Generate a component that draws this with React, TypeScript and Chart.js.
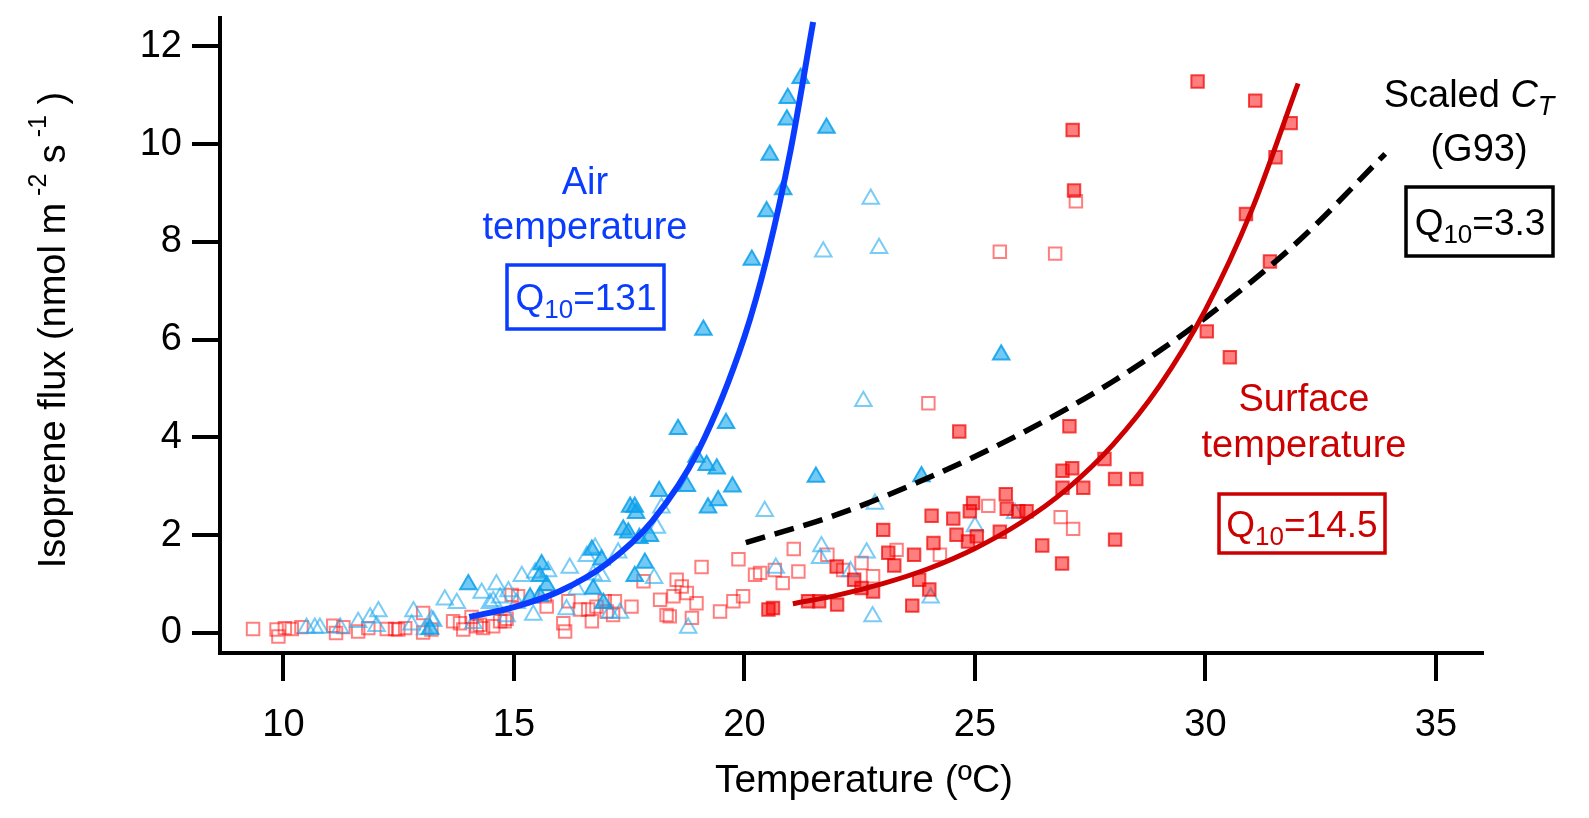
import { useEffect, useRef } from "react";
import { Chart, registerables } from "chart.js";
Chart.register(...registerables);

type Pt = [number, number];

const xTicks = [10, 15, 20, 25, 30, 35];
const yTicks = [0, 2, 4, 6, 8, 10, 12];

// air temperature, filled triangles
const airFilled: Pt[] = [
  [19.11, 6.2], [20.16, 7.63], [20.48, 8.62], [20.84, 9.07], [20.55, 9.78], [20.92, 10.5],
  [20.94, 10.94], [21.22, 11.35], [21.78, 10.33], [25.57, 5.69],
  [18.56, 4.17], [19.6, 4.29], [18.96, 3.6], [19.18, 3.43], [19.4, 3.36], [18.15, 2.9],
  [18.75, 3.0], [19.74, 2.99], [19.21, 2.56], [19.43, 2.71], [21.55, 3.19], [23.84, 3.2],
  [17.52, 2.58], [17.62, 2.58], [17.65, 2.45], [17.37, 2.11], [17.48, 2.05], [17.72, 1.94],
  [17.95, 1.98], [17.84, 1.43], [17.62, 1.16], [16.69, 1.7], [16.9, 1.5], [16.72, 0.9],
  [16.94, 0.61], [15.6, 1.4], [15.56, 1.16], [15.71, 0.97], [15.35, 0.72], [15.56, 0.75],
  [14.01, 0.99], [13.18, 0.08],
];

// air temperature, open triangles
const airOpen: Pt[] = [
  [22.74, 8.88], [21.71, 7.8], [22.92, 7.87], [22.58, 4.74],
  [20.44, 2.49], [22.83, 2.64], [21.67, 1.77], [21.64, 1.53], [20.68, 1.33], [22.65, 1.64],
  [22.3, 1.26], [25.0, 2.18], [25.87, 2.45], [24.04, 0.72], [22.78, 0.34], [18.78, 0.1],
  [18.04, 1.12], [18.2, 2.56], [18.1, 2.15],
  [16.76, 1.74], [16.58, 1.57], [16.21, 1.33], [15.74, 1.26], [15.17, 1.16], [15.46, 1.23],
  [16.36, 0.89], [16.72, 1.19], [16.9, 1.16], [17.26, 1.64], [15.42, 0.37], [14.84, 0.34],
  [17.3, 0.41], [17.08, 0.41], [16.14, 0.48], [14.12, 0.2], [13.25, 0.24], [13.07, 0.07],
  [15.06, 0.61], [13.5, 0.68], [13.76, 0.61], [14.3, 0.82], [14.62, 0.99], [14.88, 0.85],
  [14.48, 0.61], [14.55, 0.65], [14.7, 0.72], [12.82, 0.44], [12.06, 0.44], [11.88, 0.31],
  [11.62, 0.22], [12.02, 0.14], [12.78, 0.17], [13.21, 0.27], [10.5, 0.1], [10.79, 0.1],
  [11.23, 0.1], [10.68, 0.1],
];

// surface temperature, filled squares
const surfFilled: Pt[] = [
  [29.83, 11.28], [31.08, 10.89], [31.85, 10.43], [31.52, 9.73], [30.88, 8.57], [31.4, 7.6],
  [30.03, 6.17], [30.53, 5.64], [27.12, 10.29], [27.15, 9.05], [27.05, 4.23], [24.66, 4.12],
  [27.81, 3.56], [28.04, 3.15], [28.5, 3.15], [28.04, 1.91], [26.9, 3.32], [27.11, 3.37],
  [27.35, 2.97], [26.9, 2.97], [26.46, 1.79], [26.89, 1.42], [25.67, 2.84], [25.69, 2.54],
  [25.94, 2.49], [26.12, 2.49], [25.54, 2.07], [24.96, 2.66], [24.89, 2.49], [24.85, 1.87],
  [25.04, 1.98], [24.6, 2.01], [24.53, 2.34], [24.06, 2.4], [24.1, 1.84], [23.01, 2.11],
  [23.12, 1.64], [23.25, 1.38], [23.68, 1.6], [23.79, 1.09], [24.01, 0.89], [23.64, 0.56],
  [22.0, 1.36], [22.38, 1.09], [22.54, 0.92], [22.79, 0.85], [22.01, 0.58], [21.62, 0.65],
  [21.38, 0.65], [20.62, 0.51], [20.52, 0.48],
];

// surface temperature, open squares
const surfOpen: Pt[] = [
  [23.99, 4.7], [25.54, 7.8], [26.74, 7.76], [27.19, 8.83],
  [25.29, 2.6], [26.86, 2.37], [27.13, 2.13], [24.24, 1.6], [23.3, 1.7], [22.79, 1.16],
  [22.54, 1.43], [22.14, 1.29], [21.8, 1.6], [21.07, 1.72], [21.17, 1.26], [20.83, 1.02],
  [20.66, 1.29], [20.23, 1.19], [20.34, 1.23], [19.87, 1.51], [19.07, 1.35], [18.53, 1.09],
  [18.64, 0.95], [18.75, 0.82], [18.46, 0.75], [18.17, 0.68], [18.96, 0.61], [18.31, 0.37],
  [18.86, 0.31], [19.47, 0.44], [19.76, 0.65], [19.97, 0.75], [17.81, 1.06], [18.38, 0.34],
  [17.55, 0.54], [17.15, 0.37], [16.69, 0.24], [16.43, 0.48], [16.07, 0.2], [16.11, 0.03],
  [15.71, 0.54], [15.09, 0.75], [14.8, 0.24], [16.97, 0.65], [16.61, 0.48], [16.79, 0.54],
  [17.01, 0.44], [17.19, 0.65], [16.18, 0.65], [15.67, 0.75], [14.84, 0.29], [14.55, 0.14],
  [14.26, 0.17], [13.83, 0.2], [13.21, 0.07], [13.03, 0.41], [14.95, 0.78], [14.7, 0.24],
  [14.33, 0.1], [14.19, 0.14], [13.9, 0.07], [14.08, 0.33], [13.68, 0.24], [13.03, 0.01],
  [12.64, 0.1], [12.49, 0.07], [12.42, 0.08], [12.24, 0.08], [11.84, 0.1], [11.62, 0.03],
  [11.3, 0.12], [11.14, 0.0], [11.08, 0.15], [10.39, 0.12], [10.18, 0.08], [10.03, 0.1],
  [9.85, 0.07], [9.89, -0.07], [9.34, 0.08],
];

// fitted curves
const airFit: Pt[] = [
  [14.03, 0.33], [15, 0.53], [16, 0.86], [17, 1.41], [18, 2.29], [19, 3.73], [20, 6.06],
  [20.5, 7.73], [21, 9.87], [21.49, 12.5],
];
const surfFit: Pt[] = [
  [21.05, 0.6], [22, 0.77], [23, 1.01], [24, 1.32], [25, 1.73], [26, 2.26], [27, 2.95],
  [28, 3.86], [29, 5.05], [30, 6.61], [31, 8.64], [32.01, 11.24],
];
const ctFit: Pt[] = [
  [20.03, 1.85], [22, 2.42], [24, 3.18], [26, 4.08], [28, 5.15], [30, 6.45], [32, 8.0],
  [33.9, 9.8],
];

const FONT = "'Liberation Sans', Arial, sans-serif";
const BLUE = "#0a3cff";
const RED = "#cc0000";

type Piece = { t: string; sub?: boolean; sup?: boolean; italic?: boolean; scale?: number };

function drawPieces(ctx: CanvasRenderingContext2D, pieces: Piece[], cx: number, cy: number, size: number, color: string) {
  const fontOf = (p: Piece) => {
    const s = p.sub || p.sup ? Math.round(size * (p.scale ?? 0.7)) : size;
    return `${p.italic ? "italic " : ""}${s}px ${FONT}`;
  };
  let total = 0;
  for (const p of pieces) {
    ctx.font = fontOf(p);
    total += ctx.measureText(p.t).width;
  }
  let x = cx - total / 2;
  const base = cy + size * 0.36;
  ctx.fillStyle = color;
  ctx.textAlign = "left";
  ctx.textBaseline = "alphabetic";
  for (const p of pieces) {
    ctx.font = fontOf(p);
    let y = base;
    if (p.sub) y = base + size * 0.22;
    if (p.sup) y = base - size * 0.5;
    ctx.fillText(p.t, x, y);
    x += ctx.measureText(p.t).width;
  }
}

function box(ctx: CanvasRenderingContext2D, x1: number, y1: number, x2: number, y2: number, color: string) {
  ctx.strokeStyle = color;
  ctx.lineWidth = 3.5;
  ctx.strokeRect(x1, y1, x2 - x1, y2 - y1);
}

const annotations = {
  id: "annotations",
  afterDraw(chart: Chart) {
    const ctx = chart.ctx;
    ctx.save();

    drawPieces(ctx, [{ t: "Air" }], 585, 180, 38, BLUE);
    drawPieces(ctx, [{ t: "temperature" }], 585, 225, 38, BLUE);
    box(ctx, 507, 265, 664, 329, BLUE);
    drawPieces(ctx, [{ t: "Q" }, { t: "10", sub: true }, { t: "=131" }], 586, 297, 37, BLUE);

    drawPieces(ctx, [{ t: "Scaled " }, { t: "C", italic: true }, { t: "T", italic: true, sub: true }], 1469, 93, 38, "#000");
    drawPieces(ctx, [{ t: "(G93)" }], 1479, 147, 38, "#000");
    box(ctx, 1406, 187, 1553, 256, "#000");
    drawPieces(ctx, [{ t: "Q" }, { t: "10", sub: true }, { t: "=3.3" }], 1480, 222, 37, "#000");

    drawPieces(ctx, [{ t: "Surface" }], 1304, 397, 38, RED);
    drawPieces(ctx, [{ t: "temperature" }], 1304, 443, 38, RED);
    box(ctx, 1219, 494, 1385, 553, RED);
    drawPieces(ctx, [{ t: "Q" }, { t: "10", sub: true }, { t: "=14.5" }], 1302, 524, 37, RED);

    // axis titles
    drawPieces(ctx, [{ t: "Temperature (ºC)" }], 864, 778, 39, "#000");
    ctx.translate(51, 330);
    ctx.rotate(-Math.PI / 2);
    drawPieces(
      ctx,
      [
        { t: "Isoprene flux (nmol m" },
        { t: " -2", sup: true, scale: 0.65 },
        { t: " s" },
        { t: " -1", sup: true, scale: 0.65 },
        { t: " )" },
      ],
      0,
      0,
      38,
      "#000"
    );
    ctx.restore();
  },
};

const toXY = (arr: Pt[]) => arr.map(([x, y]) => ({ x, y }));

export default function App() {
  const canvasRef = useRef<HTMLCanvasElement>(null);
  const chartRef = useRef<Chart | null>(null);

  useEffect(() => {
    if (!canvasRef.current) return;
    chartRef.current?.destroy();

    const fitLine = (data: Pt[], color: string, width: number, dash: number[] = []) => ({
      data: toXY(data),
      showLine: true,
      borderColor: color,
      borderWidth: width,
      borderDash: dash,
      pointRadius: 0,
      cubicInterpolationMode: "monotone" as const,
      fill: false,
      order: 0,
    });

    chartRef.current = new Chart(canvasRef.current, {
      type: "scatter",
      data: {
        datasets: [
          fitLine(airFit, BLUE, 6),
          fitLine(surfFit, RED, 5),
          fitLine(ctFit, "#000", 5.5, [20, 10]),
          {
            data: toXY(airFilled),
            pointStyle: "triangle",
            pointRadius: 9.5,
            pointBorderWidth: 2,
            backgroundColor: "rgba(20,165,235,0.6)",
            borderColor: "rgba(10,160,235,0.85)",
            order: 1,
          },
          {
            data: toXY(surfFilled),
            pointStyle: "rect",
            pointRadius: 8.8,
            pointBorderWidth: 2,
            backgroundColor: "rgba(255,0,0,0.5)",
            borderColor: "rgba(240,0,0,0.7)",
            order: 2,
          },
          {
            data: toXY(airOpen),
            pointStyle: "triangle",
            pointRadius: 9.5,
            pointBorderWidth: 2,
            backgroundColor: "rgba(0,0,0,0)",
            borderColor: "rgba(30,170,240,0.6)",
            order: 3,
          },
          {
            data: toXY(surfOpen),
            pointStyle: "rect",
            pointRadius: 8.8,
            pointBorderWidth: 2,
            backgroundColor: "rgba(0,0,0,0)",
            borderColor: "rgba(255,0,0,0.5)",
            order: 4,
          },
        ],
      },
      plugins: [annotations],
      options: {
        animation: false,
        responsive: false,
        devicePixelRatio: 1,
        layout: { padding: { left: 0, top: 18, right: 107, bottom: 0 } },
        plugins: { legend: { display: false }, tooltip: { enabled: false } },
        scales: {
          x: {
            type: "linear",
            min: 8.623,
            max: 36.0,
            afterBuildTicks: (s: any) => {
              s.ticks = xTicks.map((v) => ({ value: v }));
            },
            afterFit: (s: any) => {
              s.height = 165;
              s.paddingLeft = 0;
              s.paddingRight = 0;
            },
            grid: { drawOnChartArea: false, drawTicks: true, tickLength: 28, lineWidth: 4, tickWidth: 4, color: "#000" },
            border: { display: true, width: 4, color: "#000" },
            ticks: { color: "#000", font: { family: FONT, size: 38 }, padding: 22, maxRotation: 0 },
          },
          y: {
            type: "linear",
            min: -0.409,
            max: 12.58,
            afterBuildTicks: (s: any) => {
              s.ticks = yTicks.map((v) => ({ value: v }));
            },
            afterFit: (s: any) => {
              s.width = 220;
              s.paddingTop = 0;
              s.paddingBottom = 0;
            },
            grid: { drawOnChartArea: false, drawTicks: true, tickLength: 28, lineWidth: 4, tickWidth: 4, color: "#000" },
            border: { display: true, width: 4, color: "#000" },
            ticks: { color: "#000", font: { family: FONT, size: 38 }, padding: 10 },
          },
        },
      },
    });

    return () => {
      chartRef.current?.destroy();
      chartRef.current = null;
    };
  }, []);

  return (
    <div style={{ position: "absolute", left: 0, top: 0, width: 1589, height: 818, background: "#fff" }}>
      <canvas ref={canvasRef} width={1589} height={818} style={{ display: "block" }} />
    </div>
  );
}
